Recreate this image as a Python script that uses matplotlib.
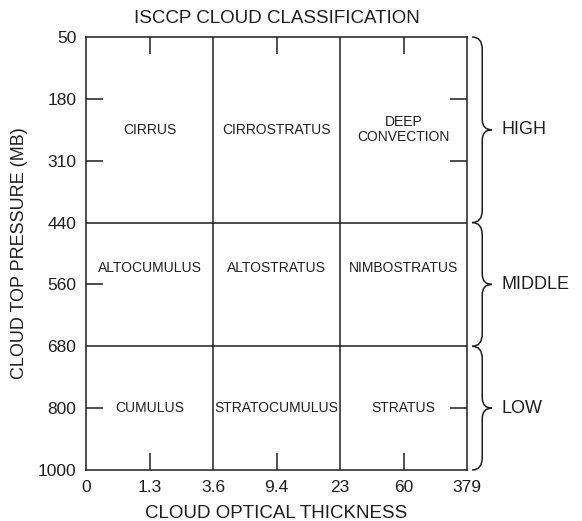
import matplotlib
matplotlib.use("Agg")
import matplotlib.pyplot as plt
from matplotlib.path import Path
from matplotlib.patches import PathPatch

plt.rcParams['font.family'] = ['Liberation Sans', 'DejaVu Sans']

# axis tick labels (plotted at equal spacing, like the original figure)
tau_labels = ['0', '1.3', '3.6', '9.4', '23', '60', '379']
pc_labels = ['50', '180', '310', '440', '560', '680', '800', '1000']

# class boundaries
tau_edges = ['0', '3.6', '23', '379']
pc_edges = ['50', '440', '680', '1000']

# cloud types, rows = high/middle/low, cols = thin/medium/thick
cloud_types = [
    ['CIRRUS', 'CIRROSTRATUS', 'DEEP\nCONVECTION'],
    ['ALTOCUMULUS', 'ALTOSTRATUS', 'NIMBOSTRATUS'],
    ['CUMULUS', 'STRATOCUMULUS', 'STRATUS'],
]
levels = ['HIGH', 'MIDDLE', 'LOW']
right_ticks = ['180', '310', '800']

ink = '#1e1e1e'
lw = 1.1

fig = plt.figure(figsize=(5.82, 5.21), dpi=100)
ax = fig.add_axes([86 / 582, 1 - 470 / 521, 381 / 582, 433 / 521])

xi = {t: i for i, t in enumerate(tau_labels)}
yi = {p: i for i, p in enumerate(pc_labels)}

ax.set_xlim(0, len(tau_labels) - 1)
ax.set_ylim(len(pc_labels) - 1, 0)

# grid dividing the classes
for t in tau_edges[1:-1]:
    ax.axvline(xi[t], color=ink, lw=lw)
for p in pc_edges[1:-1]:
    ax.axhline(yi[p], color=ink, lw=lw)

for s in ax.spines.values():
    s.set_color(ink)
    s.set_linewidth(lw)

# labels on every position, marks only on the in-between ones
ax.set_xticks(range(len(tau_labels)))
ax.set_xticklabels(tau_labels)
ax.set_yticks(range(len(pc_labels)))
ax.set_yticklabels(pc_labels)
ax.tick_params(which='major', length=0, labelsize=12.5, colors=ink)
ax.tick_params(axis='x', which='major', pad=7)
ax.tick_params(axis='y', which='major', pad=7)

ax.xaxis.remove_overlapping_locs = False
ax.yaxis.remove_overlapping_locs = False
ax.set_xticks([xi[t] for t in tau_labels if t not in tau_edges], minor=True)
ax.set_yticks([yi[p] for p in pc_labels if p not in pc_edges], minor=True)
ax.tick_params(which='minor', direction='in', length=12, width=lw, color=ink)
ax.tick_params(axis='x', which='minor', top=True, bottom=True)
ax.tick_params(axis='y', which='minor', left=True, right=False)

ax2 = ax.twinx()
ax2.set_ylim(ax.get_ylim())
ax2.set_yticks([yi[p] for p in right_ticks])
ax2.tick_params(direction='in', length=12, width=lw, color=ink, labelright=False)
for s in ax2.spines.values():
    s.set_visible(False)

# cloud type names
for r, row in enumerate(cloud_types):
    y0, y1 = yi[pc_edges[r]], yi[pc_edges[r + 1]]
    yc = (y0 + y1) / 2
    if r == 1:
        yc -= 0.27
    for c, name in enumerate(row):
        xc = (xi[tau_edges[c]] + xi[tau_edges[c + 1]]) / 2
        ax.text(xc, yc, name, ha='center', va='center', fontsize=10,
                color=ink, linespacing=1.1)

# braces + level names
xl, xm, xp = 6.08, 6.24, 6.39
for r, name in enumerate(levels):
    y0, y1 = yi[pc_edges[r]], yi[pc_edges[r + 1]]
    ym = (y0 + y1) / 2
    rc, rt = 0.2, 0.17
    verts = [(xl, y0), (xm, y0), (xm, y0 + rc),
             (xm, ym - rt), (xm, ym), (xp, ym),
             (xm, ym), (xm, ym + rt),
             (xm, y1 - rc), (xm, y1), (xl, y1)]
    codes = [Path.MOVETO, Path.CURVE3, Path.CURVE3,
             Path.LINETO, Path.CURVE3, Path.CURVE3,
             Path.CURVE3, Path.CURVE3,
             Path.LINETO, Path.CURVE3, Path.CURVE3]
    ax.add_patch(PathPatch(Path(verts, codes), fill=False, edgecolor=ink,
                           lw=lw, clip_on=False))
    ax.text(6.55, ym, name, ha='left', va='center', fontsize=13, color=ink)

ax.text(0.5, 1.042, 'ISCCP CLOUD CLASSIFICATION', transform=ax.transAxes,
        ha='center', va='center', fontsize=13.5, color=ink)
ax.set_xlabel('CLOUD OPTICAL THICKNESS', fontsize=13.5, color=ink, va='center')
ax.xaxis.set_label_coords(0.5, (470 - 513) / 433)
ax.set_ylabel('CLOUD TOP PRESSURE (MB)', fontsize=13, color=ink, va='center')
ax.yaxis.set_label_coords((20 - 86) / 381, 0.5)

fig.savefig('out.png', dpi=100)
